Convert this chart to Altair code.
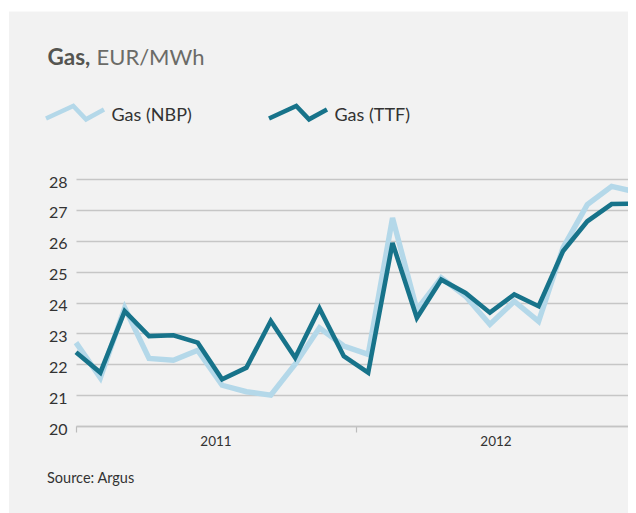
import altair as alt
import pandas as pd

# ---- data ----
months = list(range(24))  # Jan 2011 .. Dec 2012
nbp = [22.70, 21.56, 23.83, 22.19, 22.13, 22.45, 21.32, 21.11, 21.00, 22.00, 23.18, 22.59,
       22.32, 26.74, 23.77, 24.80, 24.20, 23.29, 24.04, 23.39, 25.77, 27.17, 27.76, 27.58]
ttf = [22.39, 21.73, 23.72, 22.91, 22.94, 22.70, 21.51, 21.89, 23.40, 22.21, 23.81, 22.26,
       21.73, 25.93, 23.50, 24.74, 24.31, 23.67, 24.26, 23.88, 25.66, 26.63, 27.19, 27.20]
series = ["Gas (NBP)", "Gas (TTF)"]
years = ["2011", "2012"]
year_centres = [5.75, 17.25]
year_bounds = [0, 11.5]
y_ticks = [20, 21, 22, 23, 24, 25, 26, 27, 28]

LIGHT = "#b4d8e9"
DARK = "#17738a"
BG = "#f2f2f2"
FONT = "Lato"

PLOT_W = 552
X_MAX = 23 * PLOT_W / 560  # the reference's last month sits just past the visible edge

df = pd.DataFrame({
    "m": months * 2,
    "v": nbp + ttf,
    "series": [series[0]] * len(nbp) + [series[1]] * len(ttf),
})

x_axis = alt.Axis(values=year_bounds, labels=False, title=None, grid=False,
                  domainColor="#c4c4c4", domainWidth=1.3, tickColor="#bcbcbc",
                  tickSize=6, tickWidth=1.2)
x_enc = alt.X("m:Q", scale=alt.Scale(domain=[0, X_MAX], nice=False, zero=False), axis=x_axis)
y_enc = alt.Y("v:Q", scale=alt.Scale(domain=[20, 28], nice=False, zero=False),
              axis=alt.Axis(values=y_ticks, title=None, domain=False, ticks=False,
                            labelPadding=9, labelFont=FONT, labelFontSize=16,
                            labelColor="#333333", labelOffset=3,
                            gridColor="#c6c6c6", gridWidth=1.3))
color_enc = alt.Color("series:N",
                      scale=alt.Scale(domain=series, range=[LIGHT, DARK]),
                      legend=alt.Legend(
                          title=None, orient="none", direction="horizontal",
                          legendX=-32.5, legendY=-94.5,
                          symbolType="M-1,0.08L-0.06,-0.35L0.38,0.11L1,-0.23",
                          symbolSize=3364, symbolStrokeWidth=4.5,
                          symbolFillColor="transparent",
                          labelFont=FONT, labelFontSize=18, labelColor="#333333",
                          labelOffset=5, columnPadding=67))

base = alt.Chart(df).encode(x=x_enc, y=y_enc, color=color_enc)
nbp_line = base.transform_filter(alt.datum.series == series[0]).mark_line(strokeWidth=5.4)
ttf_line = base.transform_filter(alt.datum.series == series[1]).mark_line(strokeWidth=4.6)

one = pd.DataFrame({"k": [0]})
white_strip = alt.Chart(one).mark_rect(color="white", clip=False).encode(
    x=alt.value(-70), x2=alt.value(600), y=alt.value(-172), y2=alt.value(-167.5))
white_left = alt.Chart(one).mark_rect(color="white", clip=False).encode(
    x=alt.value(-70), x2=alt.value(-67), y=alt.value(-172), y2=alt.value(340))

year_df = pd.DataFrame({"m": year_centres, "label": years})
year_text = alt.Chart(year_df).mark_text(
    font=FONT, fontSize=13.5, color="#333333", baseline="alphabetic", align="center"
).encode(x=alt.X("m:Q", axis=x_axis), y=alt.value(267), text="label:N")

title_df = pd.DataFrame({"a": ["Gas,"], "b": ["EUR/MWh"], "s": ["Source: Argus"]})
t1 = alt.Chart(title_df).mark_text(font=FONT, fontSize=22.5, fontWeight="bold", color="#555551",
                                   align="left", baseline="alphabetic").encode(
    x=alt.value(-28.5), y=alt.value(-114.5), text="a:N")
t2 = alt.Chart(title_df).mark_text(font=FONT, fontSize=22, color="#6b6b67",
                                   align="left", baseline="alphabetic").encode(
    x=alt.value(20.5), y=alt.value(-114.5), text="b:N")
src = alt.Chart(title_df).mark_text(font=FONT, fontSize=14.5, color="#333333",
                                    align="left", baseline="alphabetic").encode(
    x=alt.value(-29), y=alt.value(303.5), text="s:N")

chart = alt.layer(nbp_line, ttf_line, year_text, t1, t2, src, white_strip, white_left).properties(
    width=PLOT_W, height=247,
    autosize=alt.AutoSizeParams(type="none"),
    padding={"left": 68, "top": 171, "right": 0, "bottom": 87},
    background=BG,
).configure_view(stroke=None)

chart.save("out.html", embed_options={"renderer": "svg", "actions": False})
